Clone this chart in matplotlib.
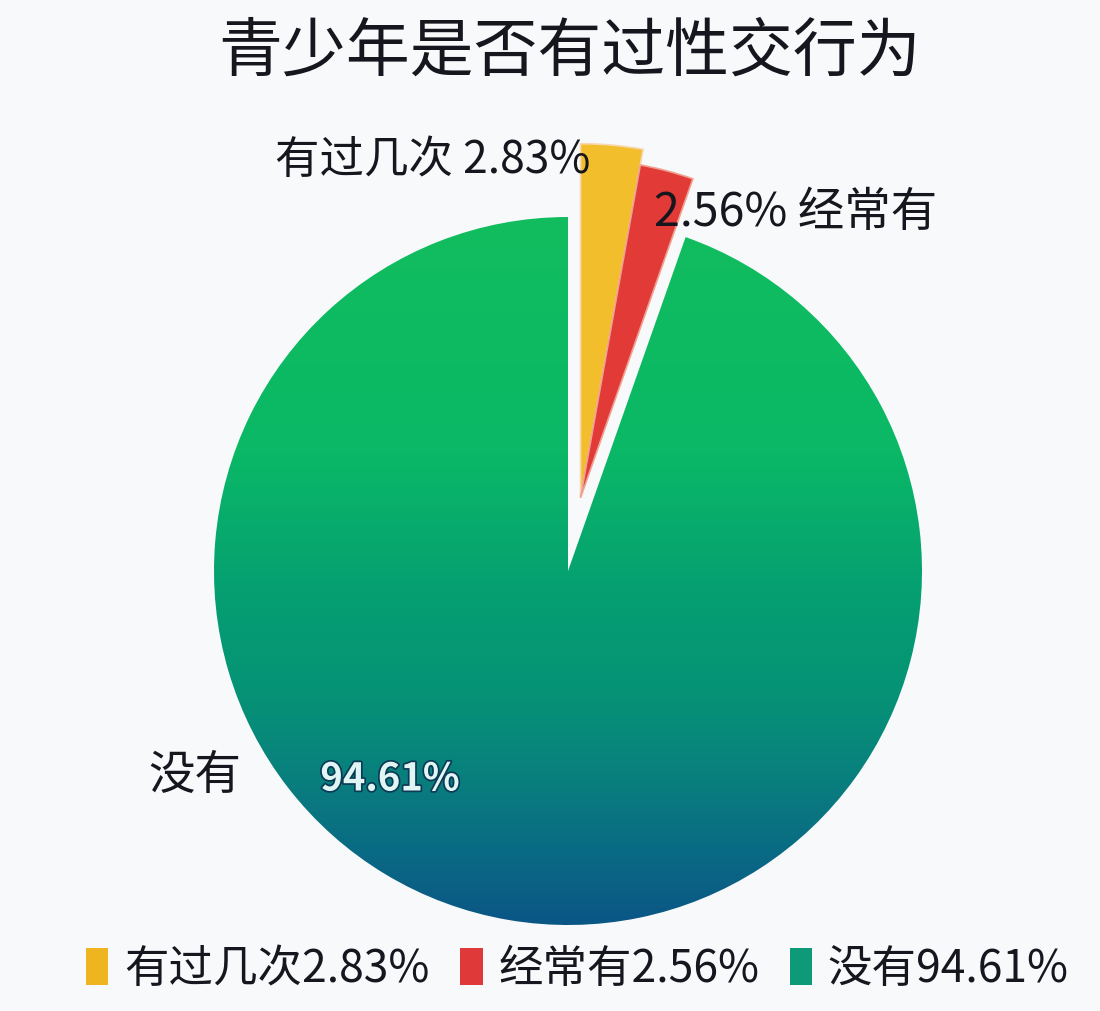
import numpy as np
import matplotlib
matplotlib.use("Agg")
import matplotlib.pyplot as plt
from matplotlib.colors import LinearSegmentedColormap
from matplotlib.patches import Patch
import matplotlib.patheffects as pe

plt.rcParams['font.family'] = ['Noto Sans CJK SC', 'DejaVu Sans']

title = "青少年是否有过性交行为"
categories = ["有过几次", "经常有", "没有"]
values = [2.83, 2.56, 94.61]
value_labels = ["2.83%", "2.56%", "94.61%"]
colors = ["#f2be2c", "#e23a37", "#0fb45f"]
legend_colors = ["#eeb520", "#e0393a", "#0e9a78"]

W, H = 1100, 1012
bg = "#f8f9fb"
fig = plt.figure(figsize=(W / 100, H / 100), dpi=100, facecolor=bg)

# pie centre / radius in pixels
cx, cy, R = 568, 572, 354
ax = fig.add_axes([0, 0, 1, 1])

wedges, _ = ax.pie(values, colors=colors, startangle=90, counterclock=False,
                   radius=1.0, center=(0, 0), frame=True,
                   wedgeprops=dict(linewidth=0))

# explode the two small slices together along their common bisector
small_frac = (values[0] + values[1]) / sum(values)
ang = np.deg2rad(90 - 360 * small_frac / 2)
dist = 0.21
for i in (0, 1):
    wedges[i].set_center((dist * np.cos(ang), dist * np.sin(ang)))
    wedges[i].set_edgecolor("#f6d9b0" if i == 0 else "#f0a090")
    wedges[i].set_linewidth(1.2)
wedges[1].set_radius(0.955)

# green slice: gradient fill clipped to wedge
green = wedges[2]
green.set_facecolor('none')
cmap = LinearSegmentedColormap.from_list("g", [
    (0.0, "#0b5686"),
    (0.1, "#0a6a84"),
    (0.2, "#097e7e"),
    (0.32, "#069276"),
    (0.46, "#059e72"),
    (0.67, "#0ab866"),
    (1.0, "#12bd5e"),
])
grad = np.linspace(0, 1, 400).reshape(-1, 1)
im = ax.imshow(grad, extent=[-1, 1, -1, 1], origin='lower', cmap=cmap,
               aspect='auto', zorder=1, interpolation='bicubic')
im.set_clip_path(green)

ax.set_xlim(-cx / R, (W - cx) / R)
ax.set_ylim(-(H - cy) / R, cy / R)
ax.set_aspect('auto')
ax.axis('off')

def fx(px):
    return px / W

def fy(py):
    return 1 - py / H

ink = "#16161f"
txt_kw = dict(color=ink, fontsize=32)
fig.text(fx(570), fy(52), title, ha='center', va='center', fontsize=46,
         color=ink, fontweight='medium')
fig.text(fx(590), fy(160), f"{categories[0]} {value_labels[0]}", ha='right',
         va='center', **txt_kw)
fig.text(fx(654), fy(213), f"{value_labels[1]} {categories[1]}", ha='left',
         va='center', color=ink, fontsize=33.5)
fig.text(fx(148), fy(776), categories[2], ha='left', va='center',
         color=ink, fontsize=33.5)
fig.text(fx(390), fy(780), value_labels[2], ha='center', va='center',
         fontsize=27.5, fontweight='bold', color="#dff6f4",
         path_effects=[pe.withStroke(linewidth=2.5, foreground="#0b3a55")])

handles = [Patch(facecolor=c, edgecolor='none') for c in legend_colors]
labels = [f"{c}{v}" for c, v in zip(categories, value_labels)]
fig.legend(handles, labels, loc='center', bbox_to_anchor=(0.525, 0.042),
           ncol=3, frameon=False, fontsize=32, handlelength=0.5,
           handleheight=0.9, handletextpad=0.35, columnspacing=0.7,
           labelcolor=ink)

fig.savefig("out.png", dpi=100, facecolor=bg)
